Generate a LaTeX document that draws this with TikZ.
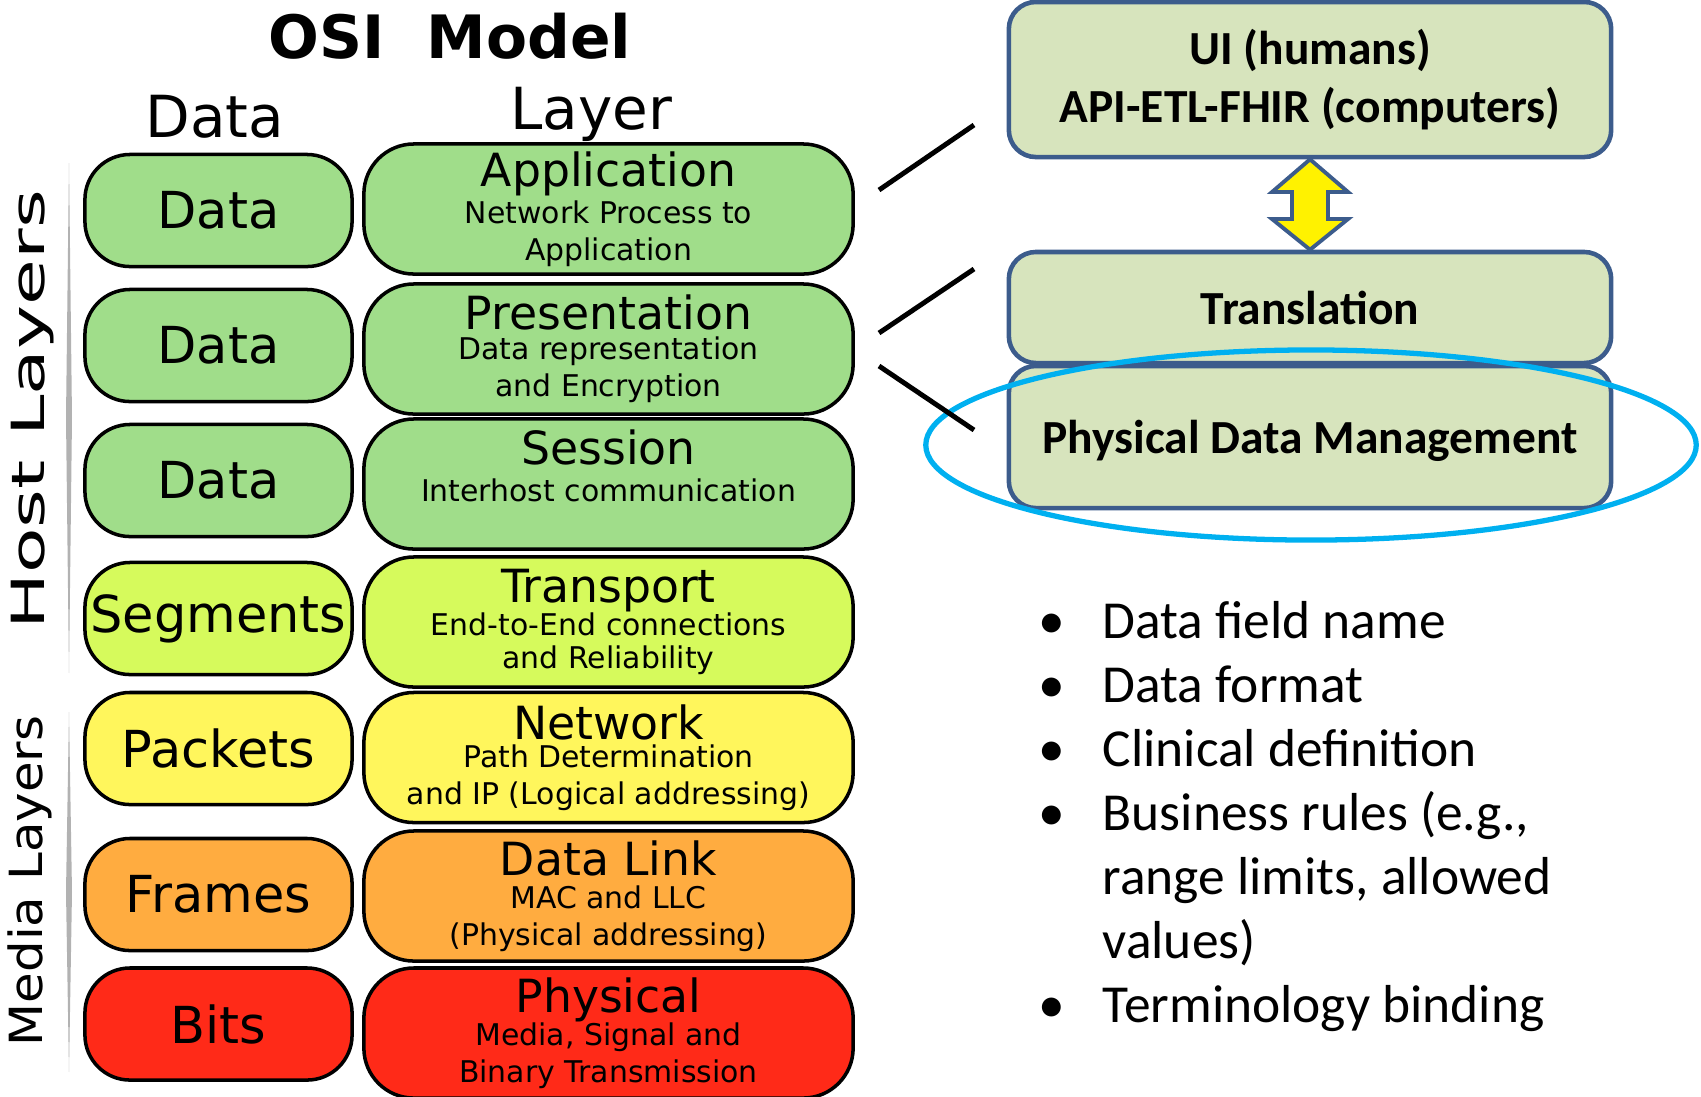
\documentclass[tikz,border=0pt]{standalone}
\usepackage{fontspec}
\setmainfont{DejaVu Sans}
\newfontfamily\calibri{Carlito}
\usetikzlibrary{positioning}

\definecolor{appgreen}{RGB}{160,221,138}
\definecolor{transgreen}{RGB}{214,250,92}
\definecolor{netyellow}{RGB}{255,246,92}
\definecolor{linkorange}{RGB}{255,172,64}
\definecolor{physred}{RGB}{255,42,24}
\definecolor{boxblue}{RGB}{60,92,140}
\definecolor{boxfill}{RGB}{215,228,189}
\definecolor{ringblue}{RGB}{0,176,240}

\begin{document}
\begin{tikzpicture}[
    x=0.01cm, y=-0.01cm,
    every node/.style={inner sep=0pt},
    databox/.style={draw, line width=1pt, rounded corners=0.45cm,
        minimum width=2.67cm, minimum height=1.12cm,
        font=\fontsize{14.5}{17}\selectfont},
    layerbox/.style={draw, line width=1pt, rounded corners=0.5cm,
        minimum width=4.89cm, minimum height=1.3cm, align=center,
        font=\fontsize{8.5}{10.5}\selectfont},
    stackbox/.style={draw=boxblue, fill=boxfill, line width=1.3pt,
        rounded corners=0.27cm, minimum width=6.02cm, align=center,
        font=\calibri\bfseries\fontsize{13.5}{16.5}\selectfont},
    item/.style={anchor=base west, font=\calibri\fontsize{15.2}{18}\selectfont},
]
\useasboundingbox (0,0) rectangle (1701,1096);

% Headings
\node[font=\bfseries\fontsize{17}{20}\selectfont] (title) at (450,36) {OSI\ \ Model};
\node[font=\fontsize{16.5}{19}\selectfont] (datahead) at (215,117) {Data};
\node[font=\fontsize{16.5}{19}\selectfont] (layerhead) at (591,114) {Layer};

% Side bars
\fill[black!30] (69,163) -- (72,418) -- (69,673) -- (66,418) -- cycle;
\fill[black!30] (69,712) -- (72,892) -- (69,1072) -- (66,892) -- cycle;
\node[rotate=90, font=\fontsize{13}{15}\selectfont] (host) at (33,410) {\scalebox{1.63}[1]{Host Layers}};
\node[rotate=90, font=\fontsize{13}{15}\selectfont] (media) at (30,881) {\scalebox{1.09}[1]{Media Layers}};

% Data units
\node[databox, fill=appgreen] (d7) at (218.5,210.5) {Data};
\node[databox, fill=appgreen] (d6) at (218.5,345.5) {Data};
\node[databox, fill=appgreen] (d5) at (218.5,480.5) {Data};
\node[databox, fill=transgreen] (d4) at (218.5,618.5) {Segments};
\node[databox, fill=netyellow] (d3) at (218.5,748.5) {Packets};
\node[databox, fill=linkorange] (d2) at (218.5,894.5) {Frames};
\node[databox, fill=physred] (d1) at (218.5,1024) {Bits};

% Layers
\node[layerbox, fill=appgreen] (app) at (608.5,209)
    {{\fontsize{13}{15}\selectfont Application}\\ Network Process to\\ Application};
\node[layerbox, fill=appgreen] (pres) at (608.5,349)
    {{\fontsize{13}{15}\selectfont Presentation}\\[-2pt] Data representation\\ and Encryption};
\node[layerbox, fill=appgreen] (sess) at (608.5,484)
    {{\fontsize{13}{15}\selectfont Session}\\ Interhost communication\\ \mbox{}};
\node[layerbox, fill=transgreen] (trans) at (608.5,622)
    {{\fontsize{13}{15}\selectfont Transport}\\[-1pt] End-to-End connections\\[-1pt] and Reliability};
\node[layerbox, fill=netyellow] (net) at (608.5,757.5)
    {{\fontsize{13}{15}\selectfont Network}\\[-2.5pt] Path Determination\\ and IP (Logical addressing)};
\node[layerbox, fill=linkorange] (link) at (608.5,896)
    {{\fontsize{13}{15}\selectfont Data Link}\\[-1pt] MAC and LLC\\ (Physical addressing)};
\node[layerbox, fill=physred] (phys) at (608.5,1033)
    {{\fontsize{13}{15}\selectfont Physical}\\[-1pt] Media, Signal and\\ Binary Transmission};

% Stack on the right
\node[stackbox, minimum height=1.55cm] (ui) at (1310,79.5) {UI (humans)\\ API-ETL-FHIR (computers)};
\node[stackbox, minimum height=1.11cm] (transl) at (1310,307.5) {Translation};
\node[stackbox, minimum height=1.42cm, text depth=0pt] (pdm) at (1310,437) {Physical Data Management};
\draw[ringblue, line width=1.5pt] (1311,445) ellipse [x radius=3.85cm, y radius=0.95cm];

% Double arrow
\draw[boxblue, fill=yellow, line width=1.1pt] (ui.south) -- (1348,192) -- (1328,192) -- (1328,219)
    -- (1348,219) -- (transl.north) -- (1272,219) -- (1292,219) -- (1292,192) -- (1272,192) -- cycle;

% Lines
\coordinate (a1) at (879,190);
\coordinate (a2) at (974,125);
\coordinate (b1) at (879,333);
\coordinate (b2) at (974,269);
\coordinate (c1) at (879,366);
\coordinate (c2) at (974,430);
\draw[line width=1.4pt] (a1) -- (a2);
\draw[line width=1.4pt] (b1) -- (b2);
\draw[line width=1.4pt] (c1) -- (c2);

% Bullets
\foreach \y in {638,702,766,830,1022}
    \node[item] (bul\y) at (1038,\y) {•};
\node[item] (i1) at (1102,638) {Data field name};
\node[item] (i2) at (1102,702) {Data format};
\node[item] (i3) at (1102,766) {Clinical definition};
\node[item] (i4) at (1102,830) {Business rules (e.g.,};
\node[item] (i5) at (1102,894) {range limits, allowed};
\node[item] (i6) at (1102,958) {values)};
\node[item] (i7) at (1102,1022) {Terminology binding};
\end{tikzpicture}
\end{document}
